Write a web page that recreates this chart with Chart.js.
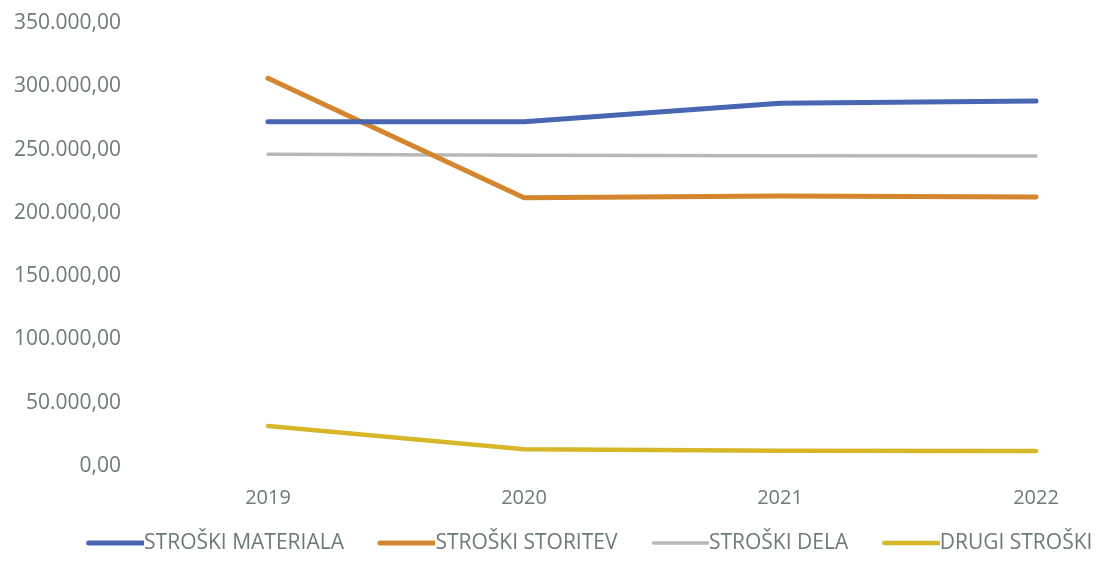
<!DOCTYPE html>
<html>
<head>
<meta charset="utf-8">
<script src="https://cdn.jsdelivr.net/npm/chart.js@4/dist/chart.umd.min.js"></script>
<style>
  html, body { margin: 0; padding: 0; background: #fff; overflow: hidden; }
  #wrap { width: 1099px; height: 562px; overflow: hidden; }
</style>
</head>
<body>
<div id="wrap"><canvas id="chart" width="1182" height="562"></canvas></div>
<script>
'use strict';

const years = ['2019', '2020', '2021', '2022'];
const materiala = [272000, 272000, 286600, 288400];
const storitev  = [306300, 212000, 213300, 212500];
const dela      = [246300, 245500, 245200, 244900];
const drugi     = [31600, 13200, 12100, 11900];

const textColor = '#6e7a78';
const legendSize = 21;
const boxW = 46;

// 350.000,00 style numbers
const fmt = v => {
  const int = Math.round(v).toString().replace(/\B(?=(\d{3})+(?!\d))/g, '.');
  return int + ',00';
};

// legend swatch that runs right up to the label text
const swatch = (color, width) => {
  const gap = legendSize / 2;
  const c = document.createElement('canvas');
  c.width = boxW + gap * 2;
  c.height = 8;
  const g = c.getContext('2d');
  g.strokeStyle = color;
  g.lineWidth = width;
  g.lineCap = 'round';
  g.beginPath();
  g.moveTo(gap + 1, 4);
  g.lineTo(boxW + gap * 2 - 1, 4);
  g.stroke();
  return c;
};

const line = (label, data, color, width) => ({
  label, data,
  borderColor: color,
  backgroundColor: color,
  borderWidth: width,
  borderCapStyle: 'round',
  borderJoinStyle: 'round',
  pointRadius: 0,
  pointStyle: swatch(color, width),
  tension: 0
});

// legend padding doubles as the gap between items, so pin its box
const legendBox = {
  id: 'legendBox',
  afterInit(chart) {
    const lg = chart.legend;
    if (!lg) return;
    const fit = lg.fit;
    lg.fit = function () { fit.call(this); this.height = 52; };
  },
  afterLayout(chart) {
    const lg = chart.legend;
    if (!lg) return;
    lg.top = 497.5;
    lg.bottom = lg.top + lg.height;
    lg.left += 8;
    lg.right += 8;
  }
};

new Chart(document.getElementById('chart').getContext('2d'), {
  type: 'line',
  data: {
    labels: years,
    datasets: [
      line('STROŠKI MATERIALA', materiala, '#4767b2', 5),
      line('STROŠKI STORITEV',  storitev,  '#d4862f', 5),
      line('STROŠKI DELA',      dela,      '#b8b8b8', 3.5),
      line('DRUGI STROŠKI',     drugi,     '#d6b728', 4.5)
    ]
  },
  plugins: [legendBox],
  options: {
    responsive: false,
    animation: false,
    layout: { padding: { top: 23, right: 18, left: 0, bottom: 0 } },
    plugins: {
      tooltip: { enabled: false },
      legend: {
        display: true,
        position: 'bottom',
        labels: {
          color: textColor,
          font: { family: "'Open Sans', sans-serif", size: legendSize },
          usePointStyle: true,
          pointStyleWidth: boxW,
          padding: 35
        }
      }
    },
    scales: {
      x: {
        offset: true,
        grid: { display: false, drawTicks: false },
        border: { display: false },
        ticks: { color: textColor, font: { family: "'Open Sans', sans-serif", size: 20 }, padding: 20 },
        afterFit: s => { s.height = 44; s.paddingLeft = 0; s.paddingRight = 0; }
      },
      y: {
        min: 0,
        max: 350000,
        grid: { display: false, drawTicks: false },
        border: { display: false },
        ticks: {
          color: textColor,
          font: { family: "'Open Sans', sans-serif", size: 21 },
          padding: 19,
          stepSize: 50000,
          callback: v => fmt(v)
        },
        afterFit: s => { s.width = 140; s.paddingTop = 0; s.paddingBottom = 0; }
      }
    }
  }
});
</script>
</body>
</html>
